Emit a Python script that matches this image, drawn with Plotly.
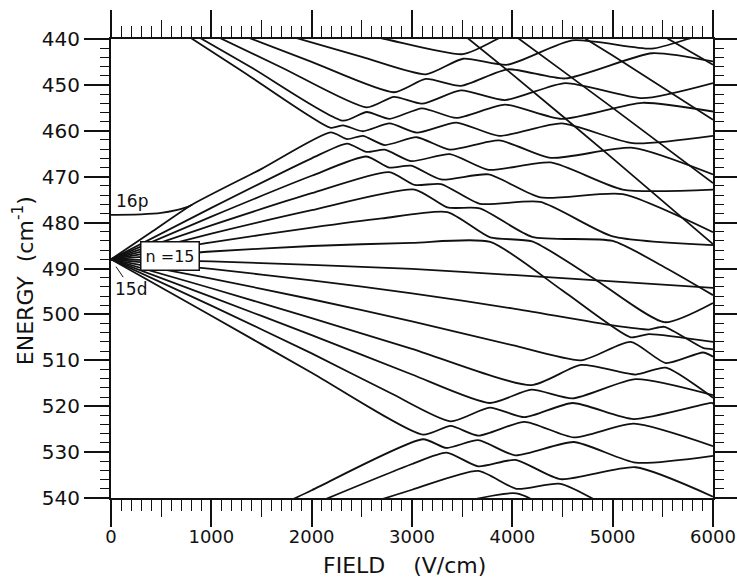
import plotly.graph_objects as go

# ---------------- data: field F (V/cm), energy E (cm^-1) ----------------
# 16p level joining the top of the n=15 fan
P16_F = [0, 300, 500, 650, 750, 807]
P16_E = [478.3, 478.2, 477.9, 477.3, 476.7, 476.1]

# upper lattice (n=15 upward states mixing with n=16 downward states)
U5_F = [2000, 2730, 3509, 3850, 4000]
U5_E = [436.7, 440.0, 443.3, 440.0, 438.0]
U4_F = [1500, 2500, 3138, 3509, 3953, 4597, 5391, 5750, 6000]
U4_E = [437.6, 443.9, 447.7, 444.3, 445.6, 440.3, 442.1, 440.0, 438.2]
U3_F = [1000, 2000, 2820, 3138, 3488, 3953, 4527, 5391, 6000]
U3_E = [436.6, 445.0, 451.6, 448.7, 450.2, 446.6, 448.6, 443.1, 444.9]
U2_F = [800, 1700, 2549, 2820, 3100, 3488, 3927, 4527, 5295, 6000]
U2_E = [436.8, 446.2, 454.9, 452.6, 454.1, 451.2, 453.3, 449.6, 452.9, 449.6]
U1_F = [500, 1400, 2314, 2549, 2776, 3100, 3442, 3927, 4492, 5295, 6000]
U1_E = [434.9, 446.2, 457.8, 455.9, 457.4, 455.1, 457.2, 454.3, 457.4, 453.9, 455.8]
U0_F = [500, 1300, 2189, 2314, 2510, 2776, 3047, 3442, 3868, 4492, 5202, 6000]
U0_E = [435.6, 446.9, 459.35, 458.8, 460.1, 458.4, 460.4, 458.2, 461.1, 458.4, 462.7, 461.1]
UM1_F = [0, 400, 807, 1500, 2189, 2354, 2510, 2729, 3047, 3377, 3868, 4383, 5202, 6000]
UM1_E = [488, 482.1, 476.1, 468.3, 460.35, 461.8, 461.1, 463.1, 461.4, 464.1, 462.1, 465.9, 463.7, 469.5]
UM2_F = [0, 1000, 2000, 2354, 2546, 2729, 2990, 3377, 3763, 4383, 5099, 6000]
UM2_E = [488, 476.8, 466.0, 462.8, 464.6, 464.1, 466.6, 465.1, 468.5, 466.9, 472.8, 472.8]
UM3_F = [0, 1000, 2000, 2546, 2772, 2990, 3289, 3763, 4278, 5099, 6000]
UM3_E = [488, 478.7, 469.8, 465.6, 468.0, 467.6, 470.6, 469.5, 474.5, 473.8, 482.1]
UM4_F = [0, 1000, 2000, 2772, 3027, 3289, 3676, 4278, 5000, 6000]
UM4_E = [488, 480.6, 473.6, 469.0, 471.8, 471.6, 475.9, 475.5, 483.0, 484.9]
UM5_F = [0, 1000, 2000, 3027, 3352, 3676, 4197, 5000, 5500, 6000]
UM5_E = [488, 482.4, 477.3, 472.8, 476.7, 476.9, 483.1, 484.0, 489.5, 495.8]
UM6_F = [0, 1000, 2000, 2700, 3352, 3779, 4197, 4800, 5515, 6000]
UM6_E = [488, 484.3, 481.1, 479.1, 477.7, 483.2, 484.1, 492.0, 501.7, 497.5]
UM7_F = [0, 1000, 2000, 3000, 3779, 4500, 5180, 5360, 6000]
UM7_E = [488, 486.3, 485.1, 484.4, 484.2, 494.8, 505.0, 504.3, 506.0]

# n=17 states crossing the upper region
N1_F = [3000, 4000, 5000, 6000]
N1_E = [430.0, 447.7, 466.0, 484.7]
N2_F = [3500, 4000, 5000, 6000]
N2_E = [431.0, 438.9, 455.0, 471.4]
N3_F = [4000, 5000, 6000]
N3_E = [430.1, 443.6, 457.6]
N4_F = [5000, 6000]
N4_E = [433.0, 445.6]

# lower lattice (n=15 downward states mixing with n=14 upward states)
LB1_F = [0, 1000, 2000, 3000, 4000, 5000, 6000]
LB1_E = [488, 488.45, 489.2, 490.1, 491.4, 492.8, 494.2]
LB2_F = [0, 1000, 2000, 3000, 4000, 5000, 5360, 5515, 5900, 6000]
LB2_E = [488, 490.1, 492.6, 495.4, 498.7, 502.4, 503.3, 502.7, 507.3, 507.6]
LB3_F = [0, 1000, 2000, 3000, 4000, 4686, 5180, 5530, 5900, 6000]
LB3_E = [488, 492.2, 496.7, 501.5, 506.7, 510.0, 506.0, 510.6, 508.3, 509.2]
LB4_F = [0, 1000, 2000, 3000, 4190, 4686, 5230, 5530, 5990, 6000]
LB4_E = [488, 494.3, 500.8, 507.5, 515.4, 511.0, 513.1, 511.6, 518.0, 518.2]
LB5_F = [0, 1000, 2000, 3000, 3774, 4190, 4600, 5230, 6000]
LB5_E = [488, 496.2, 504.5, 513.1, 519.3, 516.4, 518.3, 514.1, 517.6]
LB6_F = [0, 1000, 2000, 2800, 3385, 3774, 4123, 4600, 5210, 5990, 6000]
LB6_E = [488, 498.1, 508.5, 517.3, 523.3, 520.3, 522.4, 519.3, 522.8, 519.3, 519.5]
LB7_F = [0, 1000, 2000, 3109, 3385, 3660, 4123, 4612, 5210, 6000]
LB7_E = [488, 500.3, 512.7, 526.2, 524.3, 526.4, 523.4, 526.8, 523.8, 528.7]
LD1_F = [1000, 2000, 3109, 3343, 3660, 4030, 4612, 5229, 6000]
LD1_E = [549.0, 538.3, 527.2, 529.1, 527.4, 530.7, 527.8, 532.3, 530.8]
LD2_F = [2000, 3000, 3343, 3660, 4030, 4480, 5229, 6000]
LD2_E = [541.5, 532.6, 530.1, 533.1, 531.7, 535.9, 533.3, 539.7]
LD3_F = [2000, 3000, 3660, 4040, 4480, 5000]
LD3_E = [545.2, 538.2, 534.1, 538.0, 536.9, 542.6]
LD4_F = [3000, 4040, 4500]
LD4_E = [543.7, 539.0, 544.3]

X_TICKS = [0, 1000, 2000, 3000, 4000, 5000, 6000]
X_MID_TICKS = [500, 1500, 2500, 3500, 4500, 5500]
Y_TICKS = [440, 450, 460, 470, 480, 490, 500, 510, 520, 530, 540]

series = [(P16_F, P16_E), (U5_F, U5_E), (U4_F, U4_E), (U3_F, U3_E), (U2_F, U2_E), (U1_F, U1_E),
          (U0_F, U0_E), (UM1_F, UM1_E), (UM2_F, UM2_E), (UM3_F, UM3_E), (UM4_F, UM4_E),
          (UM5_F, UM5_E), (UM6_F, UM6_E), (UM7_F, UM7_E), (N1_F, N1_E), (N2_F, N2_E),
          (N3_F, N3_E), (N4_F, N4_E), (LB1_F, LB1_E), (LB2_F, LB2_E), (LB3_F, LB3_E),
          (LB4_F, LB4_E), (LB5_F, LB5_E), (LB6_F, LB6_E), (LB7_F, LB7_E), (LD1_F, LD1_E),
          (LD2_F, LD2_E), (LD3_F, LD3_E), (LD4_F, LD4_E)]

fig = go.Figure()
for f, e in series:
    fig.add_trace(go.Scatter(x=f, y=e, mode="lines",
                             line=dict(color="#111", width=1.8, shape="spline", smoothing=0.6),
                             hoverinfo="skip", showlegend=False))

font = "DejaVu Sans"
fig.update_layout(
    template="none",
    width=737, height=578, margin=dict(l=111, r=24, t=39, b=80, autoexpand=False),
    paper_bgcolor="white", plot_bgcolor="white", showlegend=False,
    font=dict(family=font, color="#111"),
    xaxis=dict(range=[0, 6000], tickvals=X_TICKS, ticks="outside", ticklen=27, tickwidth=1.5,
               tickcolor="#111", showline=True, linewidth=2, linecolor="#111", mirror="ticks",
               showgrid=False, zeroline=False, tickfont=dict(size=18), automargin=False,
               ticklabeloverflow="allow", ticklabelstandoff=-6,
               minor=dict(dtick=100, ticks="outside", ticklen=11, tickwidth=1.2, tickcolor="#111", showgrid=False)),
    xaxis2=dict(range=[0, 6000], overlaying="x", anchor="y", side="bottom", tickvals=X_MID_TICKS,
                ticks="outside", ticklen=18, tickwidth=1.3, tickcolor="#111", showticklabels=False,
                showline=False, mirror="ticks", showgrid=False, zeroline=False, automargin=False),
    yaxis=dict(range=[540, 440], tickvals=Y_TICKS, ticks="outside", ticklen=25, tickwidth=1.5,
               tickcolor="#111", showline=True, linewidth=2, linecolor="#111", mirror="ticks",
               showgrid=False, zeroline=False, tickfont=dict(size=20), automargin=False,
               ticklabeloverflow="allow",
               minor=dict(dtick=2, ticks="outside", ticklen=9, tickwidth=1.2, tickcolor="#111", showgrid=False)),
)
fig.add_trace(go.Scatter(x=[3000], y=[490], xaxis="x2", mode="markers", marker=dict(opacity=0),
                         hoverinfo="skip", showlegend=False))

fig.add_annotation(x=590, y=487.2, xref="x", yref="y", text="n =15", showarrow=False,
                   font=dict(size=16, family=font), bgcolor="white", bordercolor="#111",
                   borderwidth=1.5, borderpad=4)
fig.add_annotation(x=210, y=475.2, xref="x", yref="y", text="16p", showarrow=False,
                   font=dict(size=17, family=font))
fig.add_annotation(x=50, y=489.6, xref="x", yref="y", text="15d", showarrow=True,
                   ax=15, ay=22, arrowhead=0, arrowwidth=1, arrowcolor="#111",
                   standoff=0, font=dict(size=17, family=font))
fig.add_annotation(x=-0.145, y=0.474, xref="paper", yref="paper", text="ENERGY  (cm<sup>-1</sup>)",
                   textangle=-90, showarrow=False, xanchor="center", yanchor="middle",
                   font=dict(size=22, family=font))
fig.add_annotation(x=0.487, y=-0.147, xref="paper", yref="paper",
                   text="FIELD\u00a0\u00a0\u00a0\u00a0(V/cm)", xanchor="center", yanchor="middle",
                   showarrow=False, font=dict(size=22, family=font))

fig.write_html("out.html", config={"displayModeBar": False},
               post_script="document.body.style.margin='0px';document.body.style.padding='0px';")
